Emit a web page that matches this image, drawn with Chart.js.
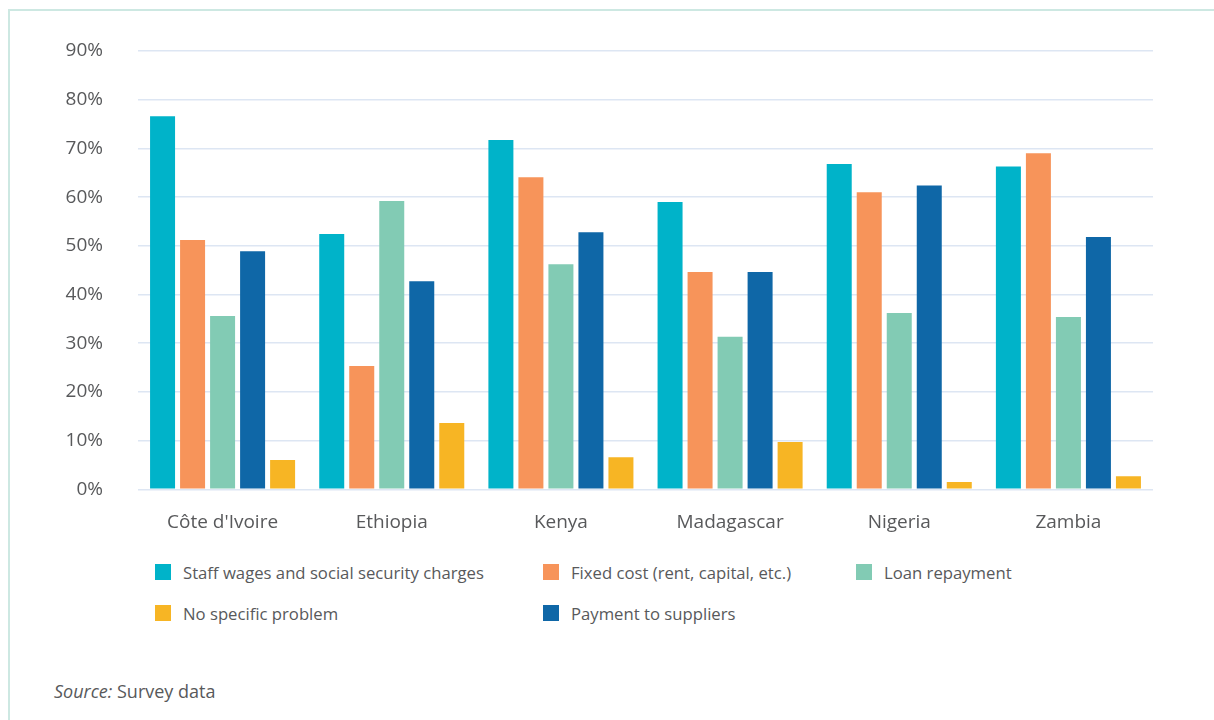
<!DOCTYPE html>
<html>
<head>
<meta charset="utf-8">
<title>Financial difficulties by country</title>
<script src="https://cdn.jsdelivr.net/npm/chart.js@4.4.1/dist/chart.umd.min.js"></script>
<style>
  html, body { margin: 0; padding: 0; background: #fff; }
  body { width: 1214px; height: 720px; position: relative; overflow: hidden; font-family: 'Open Sans', sans-serif; color: #58595b; }
  .frame { position: absolute; left: 8px; top: 9px; width: 1300px; height: 800px; border-left: 2px solid #cde8e2; border-top: 2px solid #cde8e2; }
  .chart-box { position: absolute; left: 0; top: 0; width: 1214px; height: 560px; }
  #legend { position: absolute; left: 155px; top: 564px; display: grid; grid-template-columns: 388px 313px 300px; row-gap: 25px; font-size: 16.7px; }
  #legend .item { display: flex; align-items: center; height: 16px; white-space: nowrap; }
  #legend .swatch { width: 16px; height: 16px; margin-right: 12px; flex: none; }
  .source { position: absolute; left: 54px; top: 679px; font-size: 18px; }
</style>
</head>
<body>
<div class="frame"></div>
<div class="chart-box"><canvas id="costChart"></canvas></div>
<div id="legend"></div>
<div class="source"><i>Source:</i> Survey data</div>

<script>
const countries = ["Côte d'Ivoire", 'Ethiopia', 'Kenya', 'Madagascar', 'Nigeria', 'Zambia'];

const staffWages = [76.6, 52.4, 71.7, 59.0, 66.8, 66.3];
const fixedCost = [51.2, 25.3, 64.1, 44.6, 61.0, 69.0];
const loanRepayment = [35.6, 59.2, 46.2, 31.3, 36.2, 35.4];
const supplierPayment = [48.9, 42.7, 52.8, 44.6, 62.4, 51.8];
const noProblem = [6.0, 13.6, 6.6, 9.7, 1.5, 2.7];

const yTicks = [0, 10, 20, 30, 40, 50, 60, 70, 80, 90];

// bars run in this order inside each country group
const series = [
  { label: 'Staff wages and social security charges', data: staffWages, color: '#00b3c9' },
  { label: 'Fixed cost (rent, capital, etc.)', data: fixedCost, color: '#f7945a' },
  { label: 'Loan repayment', data: loanRepayment, color: '#82cbb4' },
  { label: 'Payment to suppliers', data: supplierPayment, color: '#0f67a7' },
  { label: 'No specific problem', data: noProblem, color: '#f7b524' }
];

// the key lists them in a different order than the bars
const legendOrder = [0, 1, 2, 4, 3];

const textColor = '#58595b';
const gridColor = '#dde6f3';

function buildLegend() {
  const box = document.getElementById('legend');
  legendOrder.forEach((i) => {
    const s = series[i];
    const item = document.createElement('div');
    item.className = 'item';
    const sw = document.createElement('span');
    sw.className = 'swatch';
    sw.style.background = s.color;
    item.appendChild(sw);
    item.appendChild(document.createTextNode(s.label));
    box.appendChild(item);
  });
}

function initCostChart() {
  const canvas = document.querySelector('#costChart');
  if (!canvas || !window.Chart) return;

  return new Chart(canvas, {
    type: 'bar',
    data: {
      labels: countries,
      datasets: series.map((s) => ({
        label: s.label,
        data: s.data,
        backgroundColor: s.color,
        borderWidth: 0,
        categoryPercentage: 0.887,
        barPercentage: 0.833
      }))
    },
    options: {
      responsive: true,
      maintainAspectRatio: false,
      animation: false,
      layout: {
        padding: { top: 51, right: 61, bottom: 0, left: 0 }
      },
      plugins: {
        legend: { display: false },
        tooltip: { enabled: false }
      },
      scales: {
        x: {
          grid: { display: false, drawTicks: false },
          border: { display: false },
          ticks: {
            color: textColor,
            font: { family: 'Open Sans', size: 19 },
            padding: 22
          },
          afterFit: (scale) => { scale.height = 70.7; }
        },
        y: {
          min: 0,
          max: 90,
          afterBuildTicks: (scale) => { scale.ticks = yTicks.map((v) => ({ value: v })); },
          grid: { color: gridColor, lineWidth: 1.5, drawTicks: false },
          border: { display: false },
          ticks: {
            color: textColor,
            font: { family: 'Open Sans', size: 19 },
            padding: 35,
            callback: (v) => v + '%'
          },
          afterFit: (scale) => { scale.width = 138; }
        }
      }
    }
  });
}

buildLegend();
initCostChart();
</script>
</body>
</html>
